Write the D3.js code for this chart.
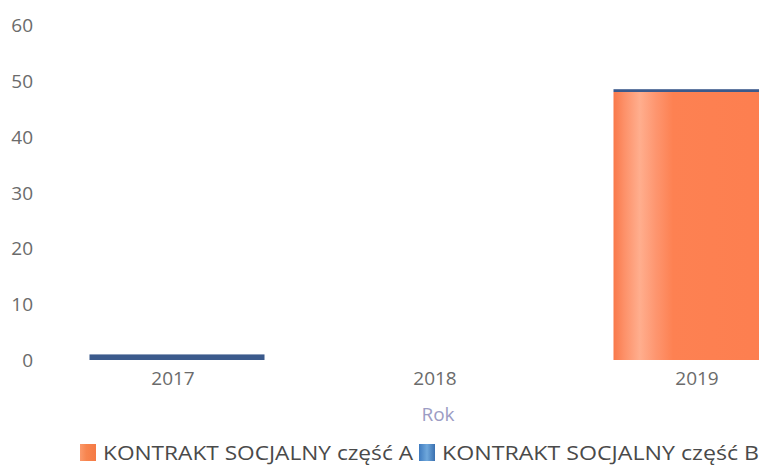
<!DOCTYPE html>
<html><head><meta charset="utf-8">
<script src="https://cdn.jsdelivr.net/npm/d3@7"></script>
<style>
html,body{margin:0;padding:0;background:#fff;overflow:hidden;}
text{font-family:"Open Sans",Lato,sans-serif;}
</style></head>
<body><svg id="c" width="759" height="466"></svg>
<script>
const categories = ["2017", "2018", "2019"];
const seriesNames = ["KONTRAKT SOCJALNY część A", "KONTRAKT SOCJALNY część B"];
const valuesA = [0, 0, 48];
const valuesB = [1, 0, 0.5];
const yTicks = [0, 10, 20, 30, 40, 50, 60];
const axisTitle = "Rok";

const svg = d3.select("#c");
const defs = svg.append("defs");
const g1 = defs.append("linearGradient").attr("id","gA").attr("x1","0").attr("x2","1").attr("y1","0").attr("y2","0");
[[0,"#f9794a"],[0.06,"#fd9068"],[0.15,"#ffae8e"],[0.24,"#fe9670"],[0.34,"#fd8152"],[1,"#fd7e4f"]].forEach(([o,c])=>g1.append("stop").attr("offset",o).attr("stop-color",c));
const gl1 = defs.append("linearGradient").attr("id","lA").attr("x1","0").attr("x2","1");
[[0,"#fb9a6c"],[0.4,"#f7854f"],[1,"#f57a45"]].forEach(([o,c])=>gl1.append("stop").attr("offset",o).attr("stop-color",c));
const gl2 = defs.append("linearGradient").attr("id","lB").attr("x1","0").attr("x2","1");
[[0,"#3f7bbf"],[0.5,"#6fa8dc"],[1,"#3a70b0"]].forEach(([o,c])=>gl2.append("stop").attr("offset",o).attr("stop-color",c));

const x = d3.scaleBand().domain(categories).range([46, 832]).paddingInner(0.332).paddingOuter(0.166);
const y = d3.scaleLinear().domain([0, 60]).range([360, 25]);

const tickColor = "#6b6b6b";
const yAxis = d3.axisLeft(y).tickValues(yTicks).tickSize(0).tickPadding(0);
const ya = svg.append("g").attr("transform","translate(33,0)").call(yAxis);
ya.select(".domain").remove();
ya.selectAll("text").attr("fill",tickColor).style("font-size","19px").style("font-family","'Open Sans',sans-serif").attr("dy","0.35em");

const data = categories.map((c,i)=>({cat:c, A:valuesA[i], B:valuesB[i]}));
const stack = d3.stack().keys(["A","B"])(data);
const fills = ["url(#gA)", "#3b5a8c"];
stack.forEach((layer, li) => {
  svg.append("g").selectAll("rect").data(layer.filter(d=>d[1]-d[0]>0)).join("rect")
    .attr("x", d=>x(d.data.cat))
    .attr("width", x.bandwidth())
    .attr("y", d=>y(d[1]))
    .attr("height", d=>y(d[0])-y(d[1]))
    .attr("fill", fills[li]);
});

const xAxis = d3.axisBottom(x).tickSize(0).tickPadding(0);
const xa = svg.append("g").attr("transform","translate(-4,371)").call(xAxis);
xa.select(".domain").remove();
xa.selectAll("text").attr("fill",tickColor).style("font-size","19px").style("font-family","'Open Sans',sans-serif").attr("dy","0.71em");

svg.append("text").attr("x", 438).attr("y", 421).attr("text-anchor","middle")
  .attr("fill","#9c9cc4").style("font-size","19px").text(axisTitle);

const leg = svg.append("g");
const lx = [80, 419];
const tl = [310, 317];
seriesNames.forEach((n,i)=>{
  leg.append("rect").attr("x", lx[i]).attr("y", 444).attr("width", 16).attr("height", 17).attr("fill", i===0?"url(#lA)":"url(#lB)");
  leg.append("text").attr("x", lx[i]+23).attr("y", 460).attr("fill","#4a4a4a").style("font-size","20px")
    .attr("textLength", tl[i]).attr("lengthAdjust","spacingAndGlyphs").text(n);
});
</script></body></html>
